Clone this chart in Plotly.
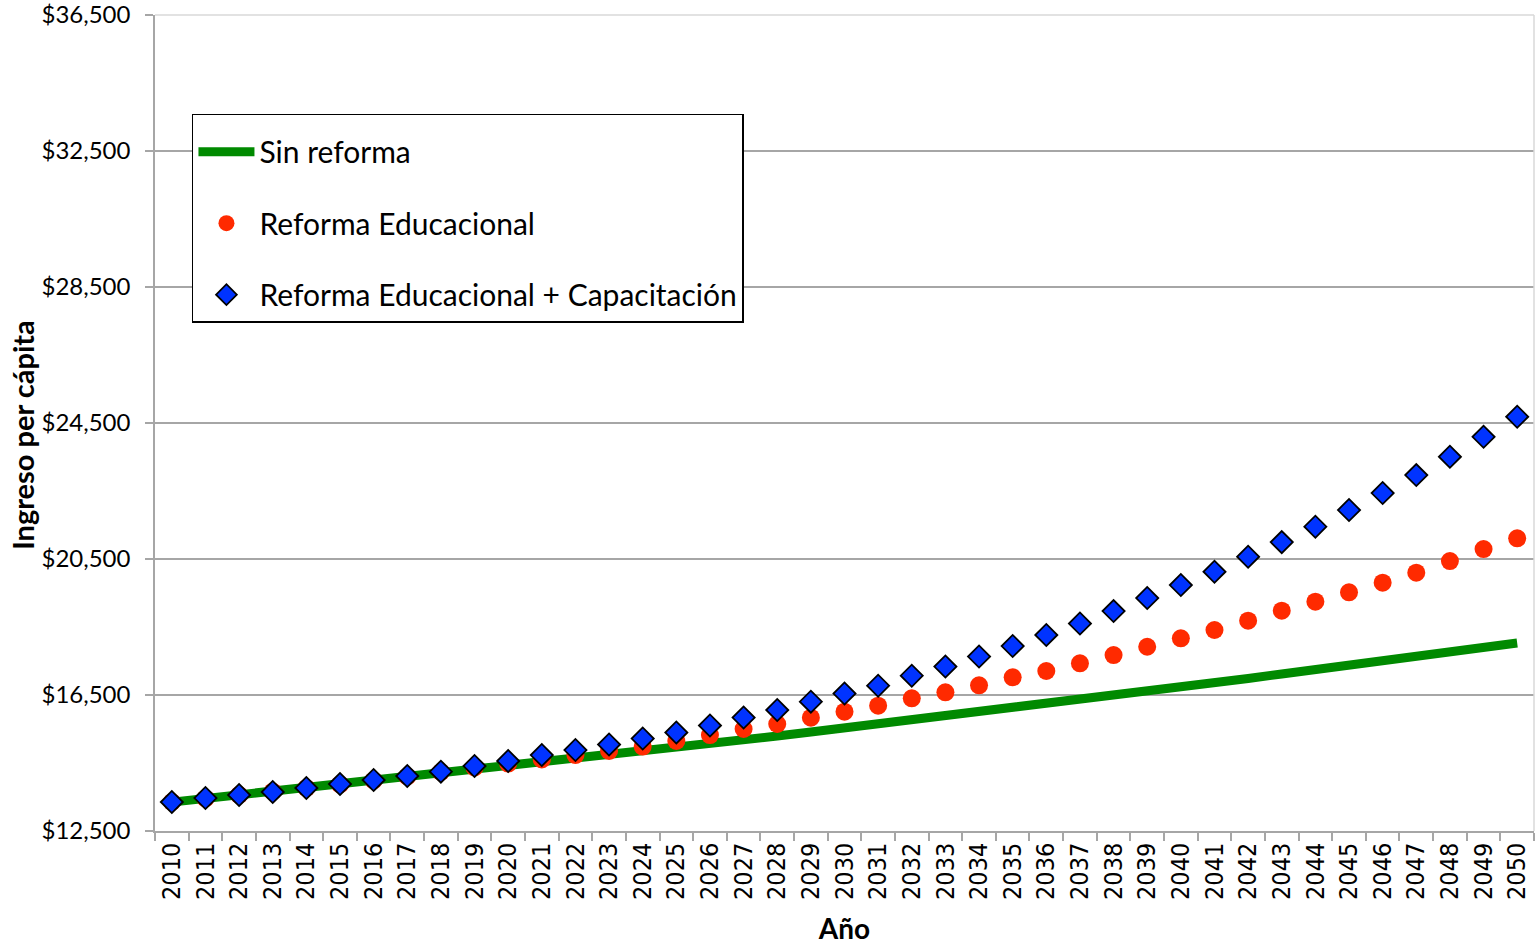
import plotly.graph_objects as go

# Años proyectados
years = [str(y) for y in range(2010, 2051)]

# Ingreso per cápita por escenario (US$)
sin_reforma = [
    13350, 13456, 13559, 13662, 13765, 13868, 13971, 14073, 14176, 14285,
    14397, 14509, 14618, 14735, 14844, 14956, 15068, 15179, 15294, 15412,
    15529, 15647, 15765, 15882, 16000, 16118, 16235, 16353, 16482, 16609,
    16735, 16862, 16988, 17118, 17244, 17371, 17500, 17632, 17765, 17897,
    18029,
]
reforma_educacional = [
    13353, 13456, 13559, 13662, 13765, 13868, 13985, 14103, 14235, 14368,
    14485, 14603, 14735, 14853, 14985, 15147, 15323, 15500, 15647, 15832,
    16009, 16185, 16403, 16579, 16785, 17020, 17206, 17432, 17676, 17920,
    18167, 18412, 18685, 18979, 19244, 19520, 19803, 20097, 20441, 20794,
    21108,
]
reforma_capacitacion = [
    13353, 13470, 13559, 13647, 13765, 13882, 14000, 14118, 14244, 14412,
    14559, 14735, 14882, 15044, 15220, 15397, 15603, 15838, 16059, 16303,
    16544, 16773, 17067, 17338, 17632, 17941, 18265, 18603, 18970, 19353,
    19735, 20126, 20567, 20999, 21450, 21941, 22441, 22970, 23508, 24096,
    24685,
]

y_ticks = [12500, 16500, 20500, 24500, 28500, 32500, 36500]
y_tick_labels = ["${:,}".format(v) for v in y_ticks]

GRID = "#a6a6a6"
TEXT_FONT = "Lato, 'Open Sans', sans-serif"

fig = go.Figure()

fig.add_trace(go.Scatter(
    x=years, y=sin_reforma, name="Sin reforma", mode="lines",
    line=dict(color="#008a00", width=9),
    legendgroup="g1",
))
fig.add_trace(go.Scatter(
    x=years, y=reforma_educacional, name="Reforma Educacional", mode="markers",
    marker=dict(color="#ff2a00", size=18, symbol="circle"),
    legendgroup="g2",
))
fig.add_trace(go.Scatter(
    x=years, y=reforma_capacitacion, name="Reforma Educacional + Capacitación",
    mode="markers",
    marker=dict(color="#0033ff", size=17, symbol="diamond",
                line=dict(color="#000000", width=1.8)),
    legendgroup="g3",
))

fig.update_layout(
    width=1536, height=945,
    margin=dict(l=155, r=2, t=15, b=114, autoexpand=False),
    paper_bgcolor="white", plot_bgcolor="white",
    font=dict(family=TEXT_FONT, size=24, color="black"),
    showlegend=True,
    legend=dict(
        x=0.0268, y=0.879, xanchor="left", yanchor="top",
        bgcolor="white", bordercolor="black", borderwidth=1.5,
        font=dict(family=TEXT_FONT, size=30, color="black"),
        title=dict(text=" ", font=dict(size=8)),
        tracegroupgap=29.5, traceorder="grouped",
        itemwidth=56,
    ),
    xaxis=dict(
        type="category", range=[-0.5, len(years) - 0.5],
        tickangle=-90, tickson="boundaries", ticks="outside", ticklen=8,
        tickcolor=GRID, tickwidth=1.5,
        showline=True, linecolor=GRID, linewidth=1.5,
        showgrid=False, automargin=False,
        tickfont=dict(family="'DejaVu Sans Condensed', 'DejaVu Sans', sans-serif",
                      size=25, color="black"),
        title=dict(text="<b>Año</b>", standoff=22,
                   font=dict(family=TEXT_FONT, size=28, color="black")),
    ),
    yaxis=dict(
        range=[12500, 36502], tickmode="array", tickvals=y_ticks,
        ticktext=y_tick_labels, ticklabeloverflow="allow",
        ticks="outside", ticklen=8, tickcolor=GRID, tickwidth=1.5,
        showline=True, linecolor=GRID, linewidth=1.5,
        showgrid=True, gridcolor=GRID, gridwidth=1.5,
        zeroline=False, automargin=False,
        ticklabelstandoff=10,
        tickfont=dict(family=TEXT_FONT, size=24, color="black"),
    ),
    annotations=[dict(
        text="<b>Ingreso per cápita</b>", textangle=-90,
        xref="paper", yref="paper", x=-0.096, y=0.485,
        xanchor="center", yanchor="middle", showarrow=False,
        font=dict(family=TEXT_FONT, size=29, color="black"),
    )],
)

# Bordes superior y derecho del área de trazado
fig.add_shape(type="line", xref="paper", yref="paper", x0=1, x1=1, y0=0, y1=1,
              line=dict(color="#d9d9d9", width=1.5))
fig.add_shape(type="line", xref="paper", yref="paper", x0=0, x1=1, y0=1, y1=1,
              line=dict(color="#d9d9d9", width=1.5))

fig.write_html("out.html")
